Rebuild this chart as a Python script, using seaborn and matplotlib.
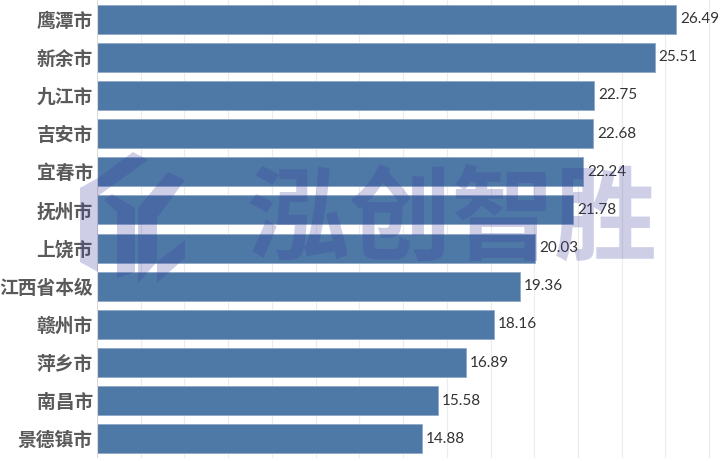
import matplotlib
matplotlib.use("Agg")
import matplotlib.pyplot as plt
from matplotlib.patches import Polygon
import seaborn as sns
import pandas as pd

categories = ["鹰潭市", "新余市", "九江市", "吉安市", "宜春市", "抚州市", "上饶市",
              "江西省本级", "赣州市", "萍乡市", "南昌市", "景德镇市"]
values = [26.49, 25.51, 22.75, 22.68, 22.24, 21.78, 20.03, 19.36, 18.16, 16.89, 15.58, 14.88]
watermark = "泓创智胜"

df = pd.DataFrame({"city": categories, "value": values})

sns.set_theme(style="white")
plt.rcParams['font.family'] = ['Noto Sans CJK SC', 'DejaVu Sans']

W, H = 728, 461
fig = plt.figure(figsize=(W / 100, H / 100), dpi=100)
ax = fig.add_axes([97 / W, 3 / H, 631 / W, 458 / H])

sns.barplot(data=df, y="city", x="value", orient="h", color="#4E79A7",
            saturation=1, width=0.76, edgecolor="#8fa9c8", linewidth=0.6, ax=ax)

ax.set_xlim(0, 28.86)
ax.set_ylim(11.5, -0.5)
ax.set_xticks(range(2, 29, 2))
ax.grid(axis="x", color="#ececec", linewidth=0.8)
ax.set_axisbelow(True)
ax.tick_params(axis="x", bottom=False, labelbottom=False)
ax.tick_params(axis="y", left=False, length=0, pad=3)
for lab in ax.get_yticklabels():
    lab.set_fontsize(13.5)
    lab.set_fontweight("bold")
    lab.set_color("#5a5a5a")
ax.set_xlabel("")
ax.set_ylabel("")
for s in ax.spines.values():
    s.set_visible(False)
ax.axvline(0, color="#d8d8d8", linewidth=0.8)

for i, v in enumerate(values):
    ax.text(v + 0.18, i, f"{v:.2f}", va="center", ha="left", fontsize=11,
            color="#333333", family=["Lato", "DejaVu Sans"])

# watermark (logo + text)
wm_color = "#3c3ca0"
logo = [
    [(80, 188), (98, 178), (98, 272), (80, 262)],
    [(98, 178), (133, 152), (148, 160), (98, 196)],
    [(104, 200), (112, 194), (135, 208), (135, 272), (117, 278), (117, 212)],
    [(138, 208), (168, 172), (185, 180), (157, 218), (157, 262), (138, 283)],
    [(157, 262), (185, 240), (185, 258), (157, 283)],
]
for poly in logo:
    pts = [(x / W, 1 - y / H) for x, y in poly]
    fig.patches.append(Polygon(pts, closed=True, transform=fig.transFigure,
                               facecolor=wm_color, edgecolor="none", alpha=0.25,
                               zorder=10))

fig.text(452 / W, 1 - 221 / H, watermark, ha="center", va="center", fontsize=74,
         fontweight="bold", color=wm_color, alpha=0.25,
         family=["Noto Sans CJK SC", "DejaVu Sans"])

fig.savefig("out.png", dpi=100)
